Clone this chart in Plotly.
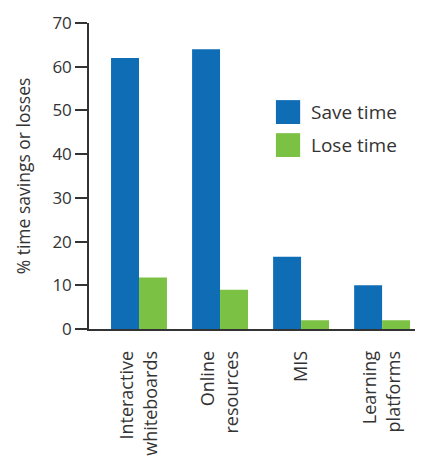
import plotly.graph_objects as go

categories = ["Interactive<br>whiteboards", "Online<br>resources", "MIS", "Learning<br>platforms"]
series_names = ["Save time", "Lose time"]
save_time = [62, 64, 16.5, 10]
lose_time = [11.8, 9, 2, 2]
y_ticks = [0, 10, 20, 30, 40, 50, 60, 70]

BLUE = "#0f6db6"
GREEN = "#7bc143"
TXT = "#333333"
FONT = "Open Sans"

fig = go.Figure()
fig.add_bar(x=categories, y=save_time, name=series_names[0], marker_color=BLUE,
            marker_line_width=0, showlegend=False)
fig.add_bar(x=categories, y=lose_time, name=series_names[1], marker_color=GREEN,
            marker_line_width=0, showlegend=False)

# legend drawn as squares + text
for i, (nm, col) in enumerate(zip(series_names, [BLUE, GREEN])):
    y0 = 0.670 - i * 0.108
    fig.add_shape(type="rect", xref="paper", yref="paper",
                  x0=0.563, x1=0.636, y0=y0, y1=y0 + 0.078,
                  fillcolor=col, line_width=0)
    fig.add_annotation(xref="paper", yref="paper", x=0.662, y=y0 + 0.039,
                       text=nm, showarrow=False, xanchor="left", yanchor="middle",
                       font=dict(family=FONT, size=19, color=TXT))

# page body has an 8px margin, so the figure is sized to fit the window
fig.update_layout(
    width=415, height=453,
    margin=dict(l=81, r=2, t=15, b=132, autoexpand=False),
    paper_bgcolor="white", plot_bgcolor="white",
    barmode="group", bargap=0.31, bargroupgap=0,
    font=dict(family=FONT, size=18, color=TXT),
)
fig.update_xaxes(
    range=[-0.617, 3.48], showline=True, linecolor="#333333", linewidth=1.5,
    ticks="", tickangle=-90, showgrid=False, zeroline=False,
    ticklabelstandoff=13, automargin=False,
    tickfont=dict(family=FONT, size=18, color=TXT),
)
fig.update_yaxes(
    range=[0, 70], tickvals=y_ticks, showline=True, linecolor="#333333", linewidth=1.5,
    ticks="outside", ticklen=12, tickwidth=1.5, tickcolor="#333333",
    showgrid=False, zeroline=False, automargin=False,
    tickfont=dict(family=FONT, size=17, color=TXT),
    title=dict(text="% time savings or losses", standoff=17,
               font=dict(family=FONT, size=17.5, color=TXT)),
)

fig.write_html("out.html")
